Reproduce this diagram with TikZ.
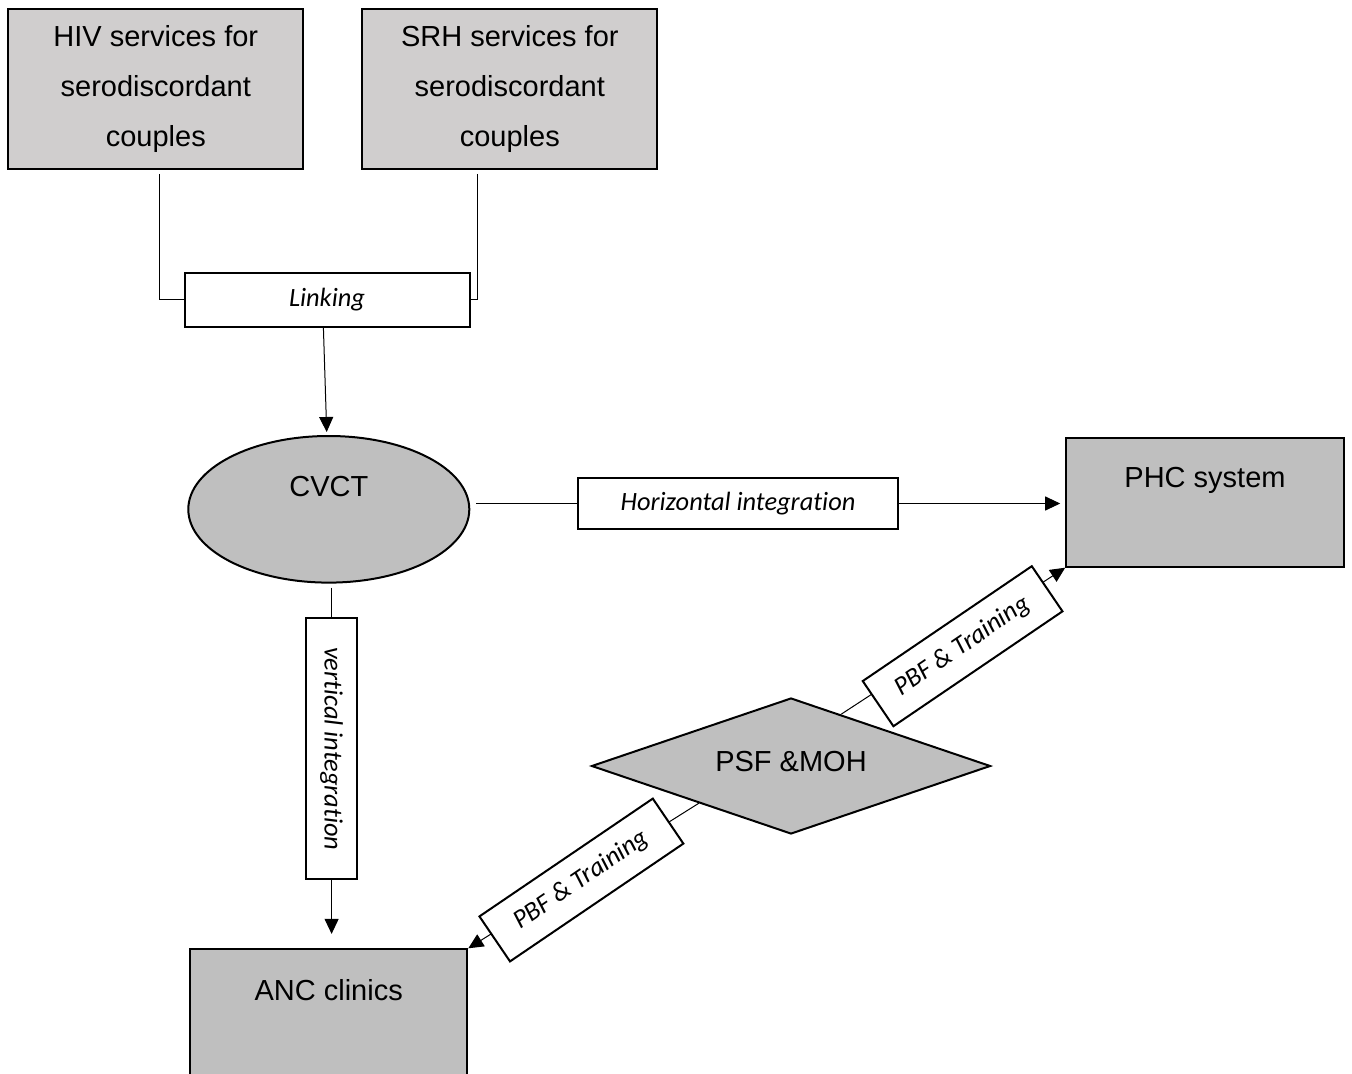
\documentclass[tikz,border=0pt]{standalone}
\usepackage{fontspec}
\setmainfont{Liberation Sans}
\newfontfamily\carl[Ligatures={NoCommon,NoContextual}]{Carlito}
\usetikzlibrary{shapes.geometric,arrows.meta,calc}
\definecolor{topgray}{HTML}{D0CECE}
\definecolor{midgray}{HTML}{BFBFBF}
\begin{document}
\begin{tikzpicture}[x=0.5pt,y=-0.5pt,
  topbox/.style={draw,line width=1pt,fill=topgray,minimum width=147.5pt,minimum height=80pt,inner sep=0pt,align=center,font=\fontsize{14.5}{25}\selectfont},
  graybox/.style={draw,line width=1pt,fill=midgray,inner sep=0pt},
  lbl/.style={draw,line width=1pt,fill=white,inner sep=0pt,font=\carl\itshape\fontsize{13.2}{15}\selectfont},
  boxtext/.style={font=\fontsize{14.5}{17}\selectfont},
  conn/.style={line width=0.5pt},
  arr/.style={line width=0.5pt,-{Triangle[length=7.5pt,width=7pt]}}]
\useasboundingbox (0,0) rectangle (1352,1074);
\clip (0,0) rectangle (1352,1074);

\node[topbox] (hiv) at (155.8,89) {HIV services for\\serodiscordant\\couples};
\node[topbox] (srh) at (509.8,89) {SRH services for\\serodiscordant\\couples};
\node[lbl,minimum width=142.5pt,minimum height=27pt] (link) at (327,299.7) {Linking};

\node[graybox,ellipse,minimum width=140.5pt,minimum height=73.3pt,
  label={[boxtext,yshift=11.3pt]center:CVCT}] (cvct) at (328.8,509.3) {};
\node[lbl,minimum width=160pt,minimum height=25.8pt] (hbox) at (738,503.5) {Horizontal integration};
\node[graybox,minimum width=138.8pt,minimum height=64.2pt,
  label={[boxtext,yshift=11.25pt]center:PHC system}] (phc) at (1205,502.5) {};
\node[lbl,minimum width=25.6pt,minimum height=130.5pt] (vbox) at (331.6,748.8) {\rotatebox{-90}{vertical integration}};
\node[graybox,minimum width=138.6pt,minimum height=64pt,
  label={[boxtext,yshift=11.7pt]center:ANC clinics}] (anc) at (328.7,1013.3) {};
\node[graybox,diamond,minimum width=199.5pt,minimum height=68pt,
  label={[boxtext,yshift=2.2pt]center:PSF \&MOH}] (dia) at (791,766) {};

% connectors
\draw[conn] ([xshift=2pt,yshift=-2pt]hiv.south) |- (link.west);
\draw[conn] ([xshift=-16pt,yshift=-2pt]srh.south) |- (link.east);
\draw[arr,shorten >=1.5pt] ([xshift=-1.8pt]link.south) -- ([xshift=-1pt]cvct.north);
\draw[conn] ([xshift=3pt]cvct.east |- hbox.west) -- (hbox.west);
\draw[arr,shorten >=2.5pt] (hbox.east) -- (hbox.east -| phc.west);
\draw[conn] ([yshift=-2pt]cvct.south -| vbox.north) -- (vbox.north);
\draw[arr,shorten >=7.2pt] (vbox.south) -- (vbox.south |- anc.north);

\coordinate (dup) at ($(dia.north)!0.25!(dia.east)$);
\coordinate (dlow) at ($(dia.west)!0.54!(dia.south)$);
\draw[arr] (dup) -- (phc.south west);
\draw[arr] (dlow) -- (anc.north east);
\node[lbl,rotate=34.2,minimum width=102.2pt,minimum height=27.3pt] (pbf1) at (962.6,646.2) {PBF \& Training};
\node[lbl,rotate=34.2,minimum width=104.8pt,minimum height=27.2pt] (pbf2) at (581.4,880) {PBF \& Training};
\end{tikzpicture}
\end{document}
